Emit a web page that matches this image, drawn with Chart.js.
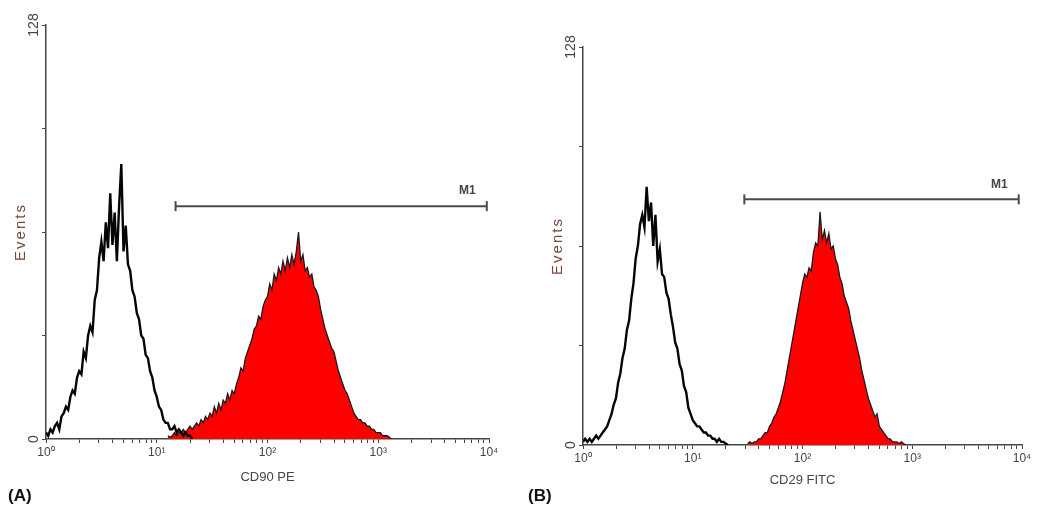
<!DOCTYPE html>
<html lang="de">
<head>
<meta charset="utf-8">
<title>Durchflusszytometrie – CD90 PE / CD29 FITC</title>
<script src="https://cdn.jsdelivr.net/npm/chart.js@4.4.1/dist/chart.umd.min.js"></script>
<style>
  html, body { margin: 0; padding: 0; background: #fff; }
  #rahmen { position: relative; width: 1038px; height: 510px; overflow: hidden; }
  canvas { position: absolute; top: 0; }
  #chartA { left: 0; }
  #chartB { left: 519px; }
  .panel-label {
    position: absolute; top: 486px; line-height: 20px;
    font: bold 17px "Liberation Sans", Arial, sans-serif; color: #111;
  }
</style>
</head>
<body>
<div id="rahmen">
  <canvas id="chartA" width="519" height="510"></canvas>
  <canvas id="chartB" width="519" height="510"></canvas>
  <div class="panel-label" style="left:8px">(A)</div>
  <div class="panel-label" style="left:528px">(B)</div>
</div>
<script>
'use strict';

// ------------------------------------------------------------------
// Daten
// ------------------------------------------------------------------

// x-Achse: Dekaden 10^0 .. 10^4 (log. Kanäle)
const X_DEKADEN    = [0, 1, 2, 3, 4];
const X_LABELS     = ['10⁰', '10¹', '10²', '10³', '10⁴'];
const X_MINOR      = [2, 3, 4, 5, 6, 7, 8, 9];   // Zwischenstriche je Dekade

// y-Achse: Events
const Y_TICKS      = [0, 32, 64, 96, 128];
const Y_BESCHRIFT  = [0, 128];

// Kanalbreite in Dekaden
const KANAL_SCHRITT = 0.02;

// (A) Isotyp-Kontrolle (schwarz), Start bei 10^0
const KONTROLLE_A_START = 0;
const KONTROLLE_A = [
  2, 1, 3, 2, 4, 5, 3, 7, 8, 10,
  9, 13, 15, 14, 19, 21, 20, 27, 25, 32,
  35, 33, 43, 46, 56, 61, 55, 67, 59, 76,
  60, 70, 55, 72, 85, 58, 66, 54, 52, 46,
  44, 39, 37, 32, 31, 26, 25, 21, 19, 15,
  13, 10, 9, 6, 5, 5, 3, 3, 4, 2,
  3, 2, 1, 2, 1, 1, 0
];

// (A) CD90 PE (rot gefüllt), Start bei 10^1.1
const CD90_START = 1.10;
const CD90 = [
  1, 0.5, 1, 2, 1, 2, 2, 3, 2, 3,
  4, 3, 4, 5, 4, 6, 5, 7, 6, 8,
  7, 10, 8, 11, 9, 12, 11, 14, 12, 15,
  14, 17, 19, 22, 21, 25, 27, 29, 31, 34,
  35, 38, 37, 41, 43, 44, 48, 46, 51, 49,
  53, 51, 55, 52, 56, 53, 57, 54, 58, 64,
  55, 57, 52, 53, 50, 51, 47, 46, 44, 40,
  37, 34, 32, 30, 28, 27, 24, 21, 19, 17,
  15, 14, 12, 10, 8, 7, 6, 6, 5, 5,
  4, 4, 3, 3, 2, 2, 2, 1, 1, 1,
  0.5, 0
];

// (B) Isotyp-Kontrolle (schwarz)
const KONTROLLE_B_START = 0;
const KONTROLLE_B = [
  1, 2, 1, 2, 1, 2, 3, 2, 3, 4,
  5, 6, 8, 10, 13, 15, 20, 23, 28, 31,
  37, 40, 47, 52, 60, 64, 71, 74, 70, 83,
  72, 78, 64, 74, 59, 63, 55, 54, 49, 47,
  42, 38, 33, 31, 26, 24, 19, 17, 12, 10,
  8, 7, 6, 6, 5, 4, 4, 3, 3, 2,
  2, 1, 2, 1, 1, 0.5, 0
];

// (B) CD29 FITC (rot gefüllt), Start bei 10^1.5
const CD29_START = 1.50;
const CD29 = [
  0.5, 1, 0.5, 1, 1, 2, 2, 3, 4, 4,
  6, 7, 9, 10, 12, 14, 17, 20, 24, 28,
  32, 36, 40, 44, 48, 52, 55, 54, 57, 56,
  62, 65, 64, 75, 66, 69, 65, 68, 63, 64,
  60, 58, 54, 52, 48, 46, 44, 40, 37, 34,
  31, 28, 24, 21, 18, 15, 13, 11, 9, 10,
  6, 5, 4, 3, 2, 2, 1, 1, 1, 0.5,
  1, 0.5, 0
];

// Marker M1: Bereich in Dekaden und Höhe in Events
const M1_A = { von: 1.17, bis: 3.98, hoehe: 72 };
const M1_B = { von: 1.47, bis: 3.97, hoehe: 79 };

// ------------------------------------------------------------------
// Hilfsfunktionen
// ------------------------------------------------------------------

const SCHRIFT = '"Liberation Sans", Arial, sans-serif';
const ACHSENFARBE = '#454545';

Chart.defaults.font.family = SCHRIFT;

// Kanalwerte in {x, y}-Punkte umwandeln
function zuPunkten(start, werte) {
  return werte.map((y, i) => ({ x: start + i * KANAL_SCHRITT, y }));
}

// Striche der x-Achse: Dekaden plus log. Zwischenstriche
const xStriche = [];
X_DEKADEN.forEach(d => {
  xStriche.push(d);
  if (d < X_DEKADEN[X_DEKADEN.length - 1]) {
    X_MINOR.forEach(k => xStriche.push(d + Math.log10(k)));
  }
});

// Zusatzbeschriftung: gedrehte y-Labels, "Events", M1
const beschriftungPlugin = {
  id: 'beschriftung',
  afterDraw(chart, args, opts) {
    const { ctx, chartArea, scales } = chart;
    ctx.save();

    // 0 und 128, um 90° gedreht
    ctx.fillStyle = ACHSENFARBE;
    ctx.font = '14px ' + SCHRIFT;
    ctx.textAlign = 'center';
    ctx.textBaseline = 'middle';
    Y_BESCHRIFT.forEach(v => {
      ctx.save();
      ctx.translate(chartArea.left - 12, scales.y.getPixelForValue(v));
      ctx.rotate(-Math.PI / 2);
      ctx.fillText(String(v), 0, 0);
      ctx.restore();
    });

    // y-Titel
    ctx.save();
    ctx.fillStyle = '#7a4636';
    ctx.font = '15px ' + SCHRIFT;
    ctx.letterSpacing = '2px';
    ctx.translate(chartArea.left - 25, (chartArea.top + chartArea.bottom) / 2);
    ctx.rotate(-Math.PI / 2);
    ctx.fillText('Events', 0, 0);
    ctx.restore();

    // Markerbeschriftung
    const m = opts.marker;
    ctx.fillStyle = ACHSENFARBE;
    ctx.font = 'bold 12px ' + SCHRIFT;
    ctx.textAlign = 'right';
    ctx.fillText('M1', scales.x.getPixelForValue(m.bis) - 11,
                 scales.y.getPixelForValue(m.hoehe) - 15);

    ctx.restore();
  }
};

// ------------------------------------------------------------------
// Diagramm erzeugen
// ------------------------------------------------------------------

function histogramm(canvasId, cfg) {
  return new Chart(document.getElementById(canvasId), {
    type: 'line',
    data: {
      datasets: [
        {
          // Kontrolle: nur Linie, oben liegend
          data: zuPunkten(cfg.kontrolleStart, cfg.kontrolle),
          borderColor: '#050505',
          borderWidth: 2.4,
          pointRadius: 0,
          tension: 0,
          fill: false,
        },
        {
          // Marker-Färbung: rot gefüllt
          data: zuPunkten(cfg.probeStart, cfg.probe),
          borderColor: '#1a1a1a',
          borderWidth: 1.3,
          backgroundColor: '#ff0000',
          pointRadius: 0,
          tension: 0,
          fill: 'origin',
        },
        {
          // M1-Bereich mit Endstrichen
          data: [{ x: cfg.marker.von, y: cfg.marker.hoehe },
                 { x: cfg.marker.bis, y: cfg.marker.hoehe }],
          borderColor: '#4a4a4a',
          borderWidth: 2,
          pointStyle: 'line',
          rotation: 90,
          pointRadius: 5,
          pointBorderWidth: 2,
          pointBorderColor: '#4a4a4a',
          fill: false,
        },
      ],
    },
    options: {
      responsive: false,
      animation: false,
      layout: { padding: cfg.padding },
      plugins: {
        legend: { display: false },
        tooltip: { enabled: false },
        beschriftung: { marker: cfg.marker },
      },
      scales: {
        x: {
          type: 'linear',
          min: 0,
          max: 4,
          border: { color: ACHSENFARBE, width: 1.5 },
          grid: { drawOnChartArea: false, tickLength: 4, color: ACHSENFARBE },
          ticks: {
            autoSkip: false,
            maxRotation: 0,
            padding: 2,
            color: ACHSENFARBE,
            font: { size: 12 },
            callback(v) {
              return Number.isInteger(v) ? X_LABELS[v] : '';
            },
          },
          afterBuildTicks(scale) {
            scale.ticks = xStriche.map(v => ({ value: v }));
          },
          afterFit(scale) { scale.height = 50; },
          title: {
            display: true,
            text: cfg.xTitel,
            color: ACHSENFARBE,
            font: { size: 13 },
            padding: { top: 0, bottom: cfg.titelAbstand },
          },
        },
        y: {
          min: 0,
          max: 128,
          border: { color: ACHSENFARBE, width: 1.5 },
          grid: { drawOnChartArea: false, tickLength: 4, color: ACHSENFARBE },
          ticks: { display: false },
          afterBuildTicks(scale) {
            scale.ticks = Y_TICKS.map(v => ({ value: v }));
          },
          afterFit(scale) { scale.width = 32; },
        },
      },
    },
    plugins: [beschriftungPlugin],
  });
}

histogramm('chartA', {
  kontrolleStart: KONTROLLE_A_START, kontrolle: KONTROLLE_A,
  probeStart: CD90_START, probe: CD90,
  marker: M1_A,
  xTitel: 'CD90 PE',
  titelAbstand: 4,
  padding: { left: 14, right: 30, top: 25, bottom: 21 },
});

histogramm('chartB', {
  kontrolleStart: KONTROLLE_B_START, kontrolle: KONTROLLE_B,
  probeStart: CD29_START, probe: CD29,
  marker: M1_B,
  xTitel: 'CD29 FITC',
  titelAbstand: 7,
  padding: { left: 32, right: 16, top: 47, bottom: 15 },
});
</script>
</body>
</html>
